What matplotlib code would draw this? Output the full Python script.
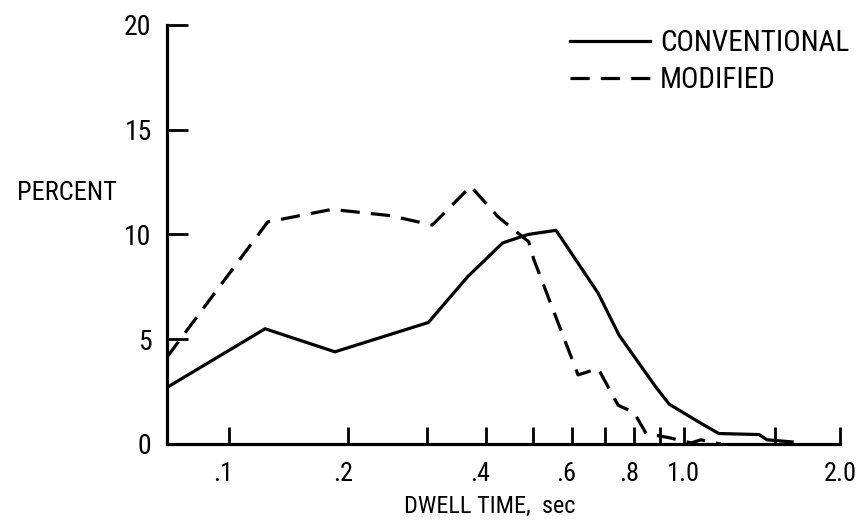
import matplotlib

matplotlib.use("Agg")
import numpy as np
import matplotlib.pyplot as plt
from matplotlib import font_manager
from matplotlib.transforms import ScaledTranslation

# dwell time (sec) and percent of fixations
conv_time = [0.065, 0.125, 0.186, 0.302, 0.367, 0.434, 0.489, 0.558, 0.678,
             0.746, 0.883, 0.937, 1.07, 1.17, 1.40, 1.45, 1.62]
conv_pct = [2.7, 5.5, 4.4, 5.8, 8.0, 9.6, 10.0, 10.2, 7.2,
            5.2, 2.7, 1.9, 1.05, 0.5, 0.45, 0.2, 0.1]

mod_time = [0.065, 0.127, 0.183, 0.249, 0.308, 0.372, 0.424, 0.491, 0.503,
            0.618, 0.678, 0.743, 0.799, 0.844, 0.937, 1.035, 1.08, 1.18]
mod_pct = [4.15, 10.6, 11.2, 10.9, 10.45, 12.3, 10.85, 9.65, 8.8,
           3.3, 3.6, 1.85, 1.5, 0.5, 0.3, 0.05, 0.2, 0.0]

x_ticks = [0.1, 0.2, 0.3, 0.4, 0.5, 0.6, 0.7, 0.8, 0.9, 1.0, 1.5, 2.0]
x_ticklabels = [".1", ".2", "", ".4", "", ".6", "", ".8", "", "1.0", "", "2.0"]
y_ticks = [0, 5, 10, 15, 20]

# the time axis is roughly log(t + 0.05)
OFFSET = 0.05


def forward(x):
    return np.log(np.clip(np.asarray(x, dtype=float) + OFFSET, 1e-6, None))


def inverse(y):
    return np.exp(y) - OFFSET


# narrow lettering like the original; take the first one that is installed
installed = {f.name for f in font_manager.fontManager.ttflist}
candidates = ["Roboto Condensed", "Liberation Sans Narrow", "Open Sans Condensed",
              "Liberation Sans", "DejaVu Sans"]
family = [f for f in candidates if f in installed][:1] + ["DejaVu Sans"]
plt.rcParams["font.family"] = family
narrow = family[0] in ("Roboto Condensed", "Liberation Sans Narrow", "Open Sans Condensed")
k = 1.0 if narrow else 0.86

fig = plt.figure(figsize=(8.63, 5.27), dpi=100)
ax = fig.add_axes([167 / 863, 83 / 527, 673 / 863, 419 / 527])

ax.set_xscale("function", functions=(forward, inverse))
ax.plot(conv_time, conv_pct, color="black", lw=2.3, solid_joinstyle="round",
        label="CONVENTIONAL")
ax.plot(mod_time, mod_pct, color="black", lw=2.3, linestyle=(0, (6, 3.5)),
        dash_joinstyle="round", label="MODIFIED")

ax.set_xlim(0.065, 2.0)
ax.set_ylim(0, 20)

for side in ("top", "right"):
    ax.spines[side].set_visible(False)
for side in ("left", "bottom"):
    ax.spines[side].set_linewidth(2.3)

ax.set_xticks(x_ticks)
ax.set_xticklabels(x_ticklabels)
ax.xaxis.set_minor_locator(matplotlib.ticker.NullLocator())
ax.set_yticks(y_ticks)
ax.tick_params(axis="x", direction="in", length=12, width=2, labelsize=19 * k, pad=13)
ax.tick_params(axis="y", direction="in", length=15, width=2, labelsize=20 * k, pad=11)

# the digit sits on the tick, the leading dot hangs to the left
shift = ScaledTranslation(-4 / 72, 0, fig.dpi_scale_trans)
for lab in ax.get_xticklabels():
    if lab.get_text().startswith("."):
        lab.set_transform(lab.get_transform() + shift)

ax.set_ylabel("PERCENT", rotation=0, fontsize=19 * k, ha="right", va="center")
ax.yaxis.set_label_coords(-0.074, 0.6)
ax.set_xlabel("DWELL TIME,  sec", fontsize=17.5 * k, va="center")
ax.xaxis.set_label_coords(0.48, -0.148)

ax.legend(loc="upper left", bbox_to_anchor=(570 / 863, 1 - 29 / 527),
          bbox_transform=fig.transFigure, frameon=False, fontsize=21 * k,
          handlelength=2.75 / k, handletextpad=0.33, labelspacing=0.3,
          borderpad=0, borderaxespad=0)

fig.savefig("out.png", dpi=100)
